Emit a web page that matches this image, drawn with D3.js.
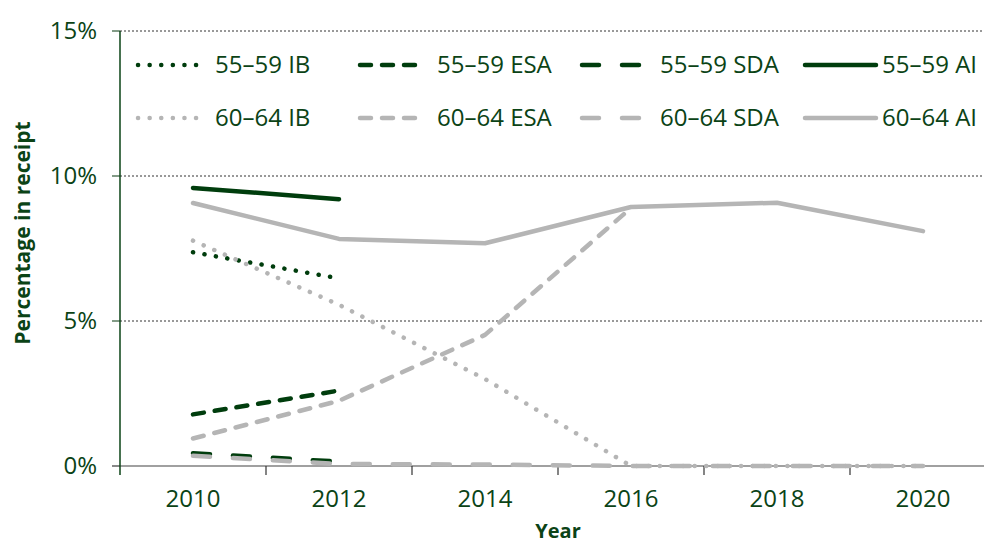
<!DOCTYPE html>
<html>
<head>
<meta charset="utf-8">
<script src="https://cdnjs.cloudflare.com/ajax/libs/d3/7.8.5/d3.min.js"></script>
<style>
  body { margin: 0; background: #fff; }
  svg { display: block; font-family: "Open Sans", sans-serif; }
</style>
</head>
<body>
<div id="chart"></div>
<script>
// values, % of age group in receipt
var years = ["2010", "2012", "2014", "2016", "2018", "2020"];
var ib5559 = [7.37, 6.47, null, null, null, null];
var esa5559 = [1.78, 2.6, null, null, null, null];
var sda5559 = [0.44, 0.15, null, null, null, null];
var ai5559 = [9.59, 9.2, null, null, null, null];
var ib6064 = [7.77, 5.56, 3.0, 0, 0, 0];
var esa6064 = [0.95, 2.25, 4.52, 8.9, null, null];
var sda6064 = [0.35, 0.07, 0.05, 0, 0, 0];
var ai6064 = [9.07, 7.83, 7.68, 8.93, 9.08, 8.1];
var yTicks = [0, 5, 10, 15];

var green = "#003d0d", grey = "#b5b5b5", textCol = "#0b4316";
var dashes = { IB: "0.1,11.5", ESA: "11,11", SDA: "17,23", AI: null };

var series = [
  { name: "55\u201359 IB", kind: "IB", color: green, values: ib5559 },
  { name: "55\u201359 ESA", kind: "ESA", color: green, values: esa5559 },
  { name: "55\u201359 SDA", kind: "SDA", color: green, values: sda5559 },
  { name: "55\u201359 AI", kind: "AI", color: green, values: ai5559 },
  { name: "60\u201364 IB", kind: "IB", color: grey, values: ib6064 },
  { name: "60\u201364 ESA", kind: "ESA", color: grey, values: esa6064 },
  { name: "60\u201364 SDA", kind: "SDA", color: grey, values: sda6064 },
  { name: "60\u201364 AI", kind: "AI", color: grey, values: ai6064 }
];

var width = 984, height = 545;
var svg = d3.select("#chart").append("svg")
    .attr("width", width)
    .attr("height", height);

// plot runs off the right edge like the original
var x = d3.scaleBand().domain(years).range([120, 996]);
var y = d3.scaleLinear().domain([0, 15]).range([466, 31]);

// dotted gridlines
svg.append("g").selectAll("line")
    .data(yTicks.filter(function(d) { return d > 0; }))
    .enter().append("line")
    .attr("x1", 120).attr("x2", width)
    .attr("y1", function(d) { return y(d); })
    .attr("y2", function(d) { return y(d); })
    .style("stroke", "#333")
    .style("stroke-width", 1)
    .style("stroke-dasharray", "2,2");

// y tick marks and labels
var yAxis = svg.append("g");
yAxis.selectAll("line")
    .data(yTicks)
    .enter().append("line")
    .attr("x1", 112).attr("x2", 120)
    .attr("y1", function(d) { return y(d); })
    .attr("y2", function(d) { return y(d); })
    .style("stroke", function(d) { return d === 0 ? "#808080" : "#5a7a5f"; })
    .style("stroke-width", 1.5);
yAxis.selectAll("text")
    .data(yTicks)
    .enter().append("text")
    .attr("x", 97)
    .attr("y", function(d) { return y(d); })
    .attr("dy", "0.35em")
    .attr("text-anchor", "end")
    .style("font-size", "24px")
    .style("fill", textCol)
    .text(function(d) { return d + "%"; });

// x axis: grey baseline, ticks between categories
svg.append("line")
    .attr("x1", 112).attr("x2", width)
    .attr("y1", y(0)).attr("y2", y(0))
    .style("stroke", "#808080")
    .style("stroke-width", 1.5);
svg.append("g").selectAll("line")
    .data(years.slice(1))
    .enter().append("line")
    .attr("x1", function(d) { return x(d); })
    .attr("x2", function(d) { return x(d); })
    .attr("y1", y(0)).attr("y2", y(0) + 9)
    .style("stroke", "#333")
    .style("stroke-width", 1.2);
svg.append("g").selectAll("text")
    .data(years)
    .enter().append("text")
    .attr("x", function(d) { return x(d) + x.bandwidth() / 2; })
    .attr("y", 507)
    .attr("text-anchor", "middle")
    .style("font-size", "24px")
    .style("fill", textCol)
    .text(function(d) { return d; });

// y axis line
svg.append("line")
    .attr("x1", 120).attr("x2", 120)
    .attr("y1", y(15)).attr("y2", y(0) + 9)
    .style("stroke", "#0b4316")
    .style("stroke-width", 1.5);

// axis titles
svg.append("text")
    .attr("x", x("2016"))
    .attr("y", 538)
    .attr("text-anchor", "middle")
    .style("font-size", "20px")
    .style("font-weight", "bold")
    .style("fill", textCol)
    .text("Year");
svg.append("text")
    .attr("transform", "translate(30,233) rotate(-90)")
    .attr("text-anchor", "middle")
    .style("font-size", "21px")
    .style("font-weight", "bold")
    .style("fill", textCol)
    .text("Percentage in receipt");

// the lines
var line = d3.line()
    .defined(function(d) { return d.v != null; })
    .x(function(d) { return x(d.year) + x.bandwidth() / 2; })
    .y(function(d) { return y(d.v); });

svg.append("g").selectAll("path")
    .data(series)
    .enter().append("path")
    .attr("d", function(s) {
      return line(years.map(function(yr, i) { return { year: yr, v: s.values[i] }; }));
    })
    .style("fill", "none")
    .style("stroke", function(s) { return s.color; })
    .style("stroke-width", 4.5)
    .style("stroke-linecap", "round")
    .style("stroke-linejoin", "round")
    .style("stroke-dasharray", function(s) { return dashes[s.kind]; });

// legend, 4 columns x 2 rows
var legX = [138, 360, 582, 805];
var legTextX = [215, 437, 660, 882];
var legY = [65, 118];
var legend = svg.append("g").selectAll("g")
    .data(series)
    .enter().append("g");
legend.append("line")
    .attr("x1", function(s, i) { return legX[i % 4]; })
    .attr("x2", function(s, i) { return legX[i % 4] + (s.kind === "AI" ? 71 : 62); })
    .attr("y1", function(s, i) { return legY[Math.floor(i / 4)]; })
    .attr("y2", function(s, i) { return legY[Math.floor(i / 4)]; })
    .style("stroke", function(s) { return s.color; })
    .style("stroke-width", 4.5)
    .style("stroke-linecap", "round")
    .style("stroke-dasharray", function(s) { return dashes[s.kind]; });
legend.append("text")
    .attr("x", function(s, i) { return legTextX[i % 4]; })
    .attr("y", function(s, i) { return legY[Math.floor(i / 4)]; })
    .attr("dy", "0.35em")
    .style("font-size", "24px")
    .style("fill", textCol)
    .text(function(s) { return s.name; });
</script>
</body>
</html>
